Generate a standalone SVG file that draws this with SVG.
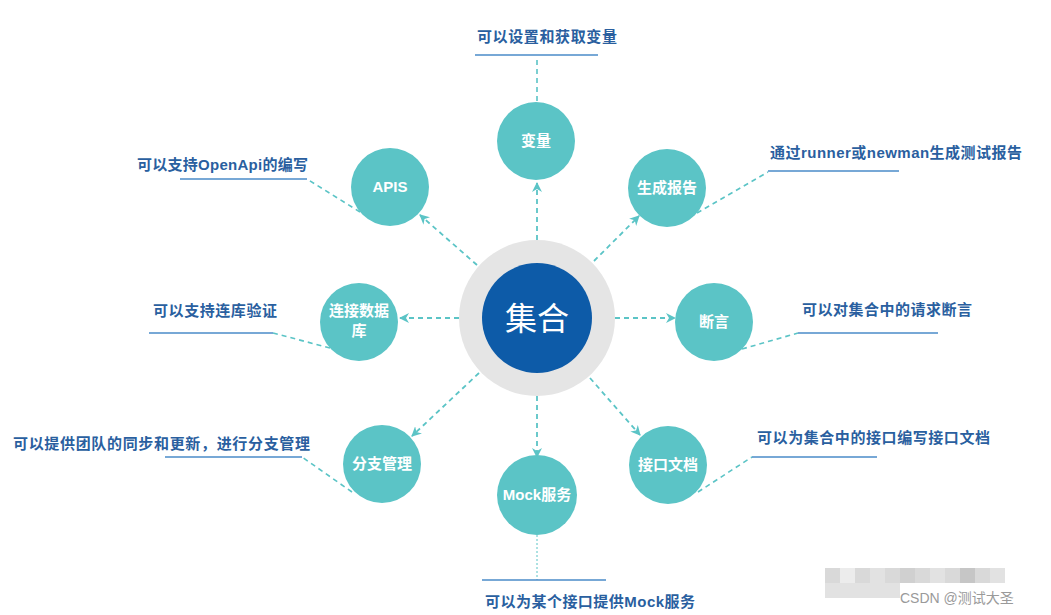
<svg xmlns="http://www.w3.org/2000/svg" width="1051" height="615" viewBox="0 0 1051 615">
<style>
.sat{fill:#5bc4c6}
.st{fill:#fff;font-family:"Liberation Sans","Noto Sans CJK SC",sans-serif;font-weight:bold;font-size:15px;text-anchor:middle}
.lb{fill:#2a5f9f;font-family:"Liberation Sans","Noto Sans CJK SC",sans-serif;font-weight:bold;font-size:15px}
.ul{stroke:#4a8bc8;stroke-width:1.5;fill:none}
.con{stroke:#5bc4c6;stroke-width:1.8;stroke-dasharray:5 4;fill:none}
.ldr{stroke:#5bc4c6;stroke-width:1.6;stroke-dasharray:5 4;fill:none}
.dot{stroke:#5bc4c6;stroke-width:1;stroke-dasharray:2 2;fill:none}
</style>
<defs>
<marker id="ah" markerUnits="userSpaceOnUse" markerWidth="10" markerHeight="10" refX="9" refY="5" orient="auto">
<path d="M0,0 L10,5 L0,10 L3,5 Z" fill="#5bc4c6"/>
</marker>
</defs>
<rect width="1051" height="615" fill="#fff"/>
<g id="connectors">
<line class="con" x1="537" y1="240" x2="537" y2="183" marker-end="url(#ah)"/>
<line class="con" x1="477" y1="265" x2="420" y2="215" marker-end="url(#ah)"/>
<line class="con" x1="594" y1="261" x2="639" y2="216" marker-end="url(#ah)"/>
<line class="con" x1="459" y1="318" x2="400" y2="318" marker-end="url(#ah)"/>
<line class="con" x1="615" y1="318" x2="675" y2="318" marker-end="url(#ah)"/>
<line class="con" x1="479" y1="373" x2="412" y2="436" marker-end="url(#ah)"/>
<line class="con" x1="590" y1="378" x2="640" y2="435" marker-end="url(#ah)"/>
<line class="con" x1="537" y1="396" x2="537" y2="457" marker-end="url(#ah)"/>
<polyline class="ldr" points="537,101 537,58"/>
<polyline class="ldr" points="360,212 307,179"/>
<polyline class="ldr" points="697,213 768,172"/>
<polyline class="ldr" points="330,348 273,333"/>
<polyline class="ldr" points="742,349 798,333"/>
<polyline class="ldr" points="352,492 302,457"/>
<polyline class="ldr" points="698,492 752,457"/>
<polyline class="dot" points="537,535 537,580"/>
</g>
<g id="center">
<circle cx="537" cy="318" r="78" fill="#e5e5e5"/>
<circle cx="537" cy="318" r="55" fill="#0d5ba8"/>
<text x="537" y="330" fill="#fff" font-family="'Noto Sans CJK SC',sans-serif" font-size="32" text-anchor="middle">集合</text>
</g>
<g id="n-bianliang">
<circle class="sat" cx="536" cy="141" r="39"/>
<text class="st" x="536" y="146">变量</text>
<line class="ul" x1="475" y1="55" x2="598" y2="55"/>
<text class="lb" x="477" y="42" textLength="140">可以设置和获取变量</text>
</g>
<g id="n-apis">
<circle class="sat" cx="390" cy="187" r="39"/>
<text class="st" x="390" y="192">APIS</text>
<line class="ul" x1="180" y1="179" x2="307" y2="179"/>
<text class="lb" x="137" y="170" textLength="171">可以支持OpenApi的编写</text>
</g>
<g id="n-report">
<circle class="sat" cx="667" cy="188" r="39"/>
<text class="st" x="667" y="193">生成报告</text>
<line class="ul" x1="768" y1="171" x2="899" y2="171"/>
<text class="lb" x="770" y="158" textLength="252">通过runner或newman生成测试报告</text>
</g>
<g id="n-db">
<circle class="sat" cx="359" cy="322" r="39"/>
<text class="st" x="359" y="316">连接数据</text>
<text class="st" x="359" y="336">库</text>
<line class="ul" x1="149" y1="333" x2="273" y2="333"/>
<text class="lb" x="153" y="316" textLength="124">可以支持连库验证</text>
</g>
<g id="n-assert">
<circle class="sat" cx="714" cy="322" r="39"/>
<text class="st" x="714" y="327">断言</text>
<line class="ul" x1="798" y1="333" x2="938" y2="333"/>
<text class="lb" x="802" y="315" textLength="170">可以对集合中的请求断言</text>
</g>
<g id="n-branch">
<circle class="sat" cx="382" cy="464" r="39"/>
<text class="st" x="382" y="469">分支管理</text>
<line class="ul" x1="165" y1="457" x2="302" y2="457"/>
<text class="lb" x="13" y="449" textLength="297">可以提供团队的同步和更新，进行分支管理</text>
</g>
<g id="n-doc">
<circle class="sat" cx="668" cy="465" r="39"/>
<text class="st" x="668" y="470">接口文档</text>
<line class="ul" x1="752" y1="457" x2="877" y2="457"/>
<text class="lb" x="757" y="443" textLength="233">可以为集合中的接口编写接口文档</text>
</g>
<g id="n-mock">
<circle class="sat" cx="537" cy="495" r="40"/>
<text class="st" x="537" y="500">Mock服务</text>
<line class="ul" x1="482" y1="580" x2="606" y2="580"/>
<text class="lb" x="485" y="607" textLength="210">可以为某个接口提供Mock服务</text>
</g>
<g id="watermark" opacity="0.55">
<rect x="825" y="568" width="15" height="15" fill="#bbb"/>
<rect x="840" y="568" width="15" height="15" fill="#ddd"/>
<rect x="855" y="568" width="15" height="15" fill="#bbb"/>
<rect x="870" y="568" width="15" height="15" fill="#ccc"/>
<rect x="885" y="568" width="15" height="15" fill="#bbb"/>
<rect x="900" y="568" width="15" height="15" fill="#aaa"/>
<rect x="915" y="568" width="15" height="15" fill="#bbb"/>
<rect x="930" y="568" width="15" height="15" fill="#ccc"/>
<rect x="945" y="568" width="15" height="15" fill="#bbb"/>
<rect x="960" y="568" width="15" height="15" fill="#999"/>
<rect x="975" y="568" width="15" height="15" fill="#bbb"/>
<rect x="990" y="568" width="15" height="15" fill="#ccc"/>
<rect x="825" y="583" width="75" height="15" fill="#ccc"/>
</g>
<text x="900" y="603" fill="#9a9a9a" font-family="'Liberation Sans','Noto Sans CJK SC',sans-serif" font-size="14">CSDN @测试大圣</text>
</svg>
